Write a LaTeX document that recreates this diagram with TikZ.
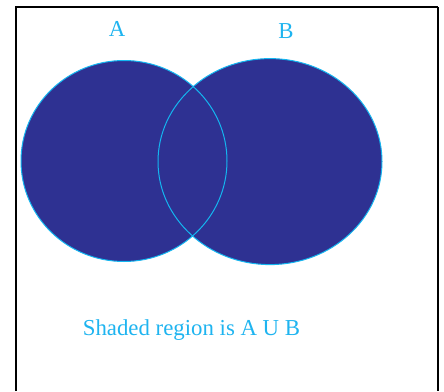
\documentclass[tikz,border=0pt]{standalone}
\usepackage{fontspec}
\setmainfont{Liberation Serif}
\definecolor{setfill}{RGB}{46,49,146}
\definecolor{setedge}{RGB}{20,182,240}
\definecolor{labelcyan}{RGB}{30,180,240}
\begin{document}
\begin{tikzpicture}[x=1pt,y=-1pt,
  lbl/.style={text=labelcyan, font=\fontsize{22.8}{26}\selectfont, inner sep=0pt, anchor=base},
  setA/.style={x radius=103, y radius=100.5},
  setB/.style={x radius=112, y radius=103}]
\useasboundingbox (0,0) rectangle (444,391);
\fill[white] (0,0) rectangle (444,391);
% the two sets, filled, then both outlines on top
\fill[setfill] (124,161) ellipse [setA];
\fill[setfill] (270,161.6) ellipse [setB];
\draw[setedge, line width=1pt] (124,161) ellipse [setA];
\draw[setedge, line width=1pt] (270,161.6) ellipse [setB];
% frame, open at the bottom
\draw[black, line width=2pt] (16,391) -- (16,7) -- (438,7);
\draw[black, line width=1.6pt] (438,7) -- (438,391);
% labels
\node[lbl] (labA) at (117,36) {A};
\node[lbl] (labB) at (286,38) {B};
\node[lbl] (caption) at (191.5,335) {Shaded region is A U B};
\end{tikzpicture}
\end{document}
